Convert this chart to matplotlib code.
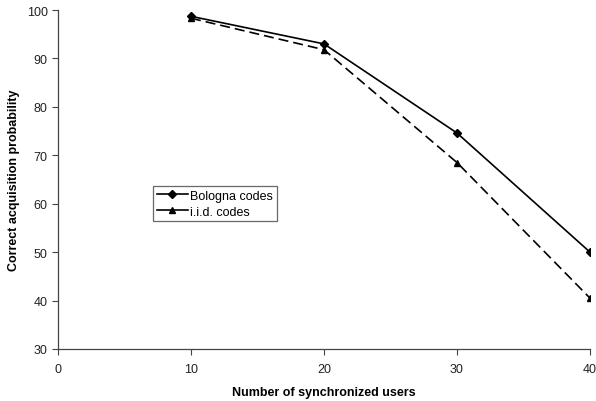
import matplotlib.pyplot as plt

plt.rcParams['font.family'] = ['Liberation Sans', 'DejaVu Sans']

users = [10, 20, 30, 40]
bologna = [98.7, 93.0, 74.6, 50.0]
iid = [98.3, 91.8, 68.5, 40.5]

fig = plt.figure(figsize=(5.96, 4.02), dpi=100)
ax = fig.add_axes([58 / 596, 1 - 350 / 402, 532 / 596, 339 / 402])

ax.plot(users, bologna, 'k-', marker='D', markersize=4, linewidth=1.2, label='Bologna codes')
ax.plot(users, iid, 'k--', marker='^', markersize=5, linewidth=1.2, dashes=(6, 3), label='i.i.d. codes')

ax.set_xlim(0, 40)
ax.set_ylim(30, 100)
ax.set_xticks([0, 10, 20, 30, 40])
ax.set_yticks(range(30, 101, 10))
ax.tick_params(labelsize=9, length=4, width=0.8, color='#444444', labelcolor='#222222')
ax.tick_params(axis='x', pad=6)
for s in ['top', 'right']:
    ax.spines[s].set_visible(False)
for s in ['left', 'bottom']:
    ax.spines[s].set_color('#444444')
    ax.spines[s].set_linewidth(0.9)

ax.set_xlabel('Number of synchronized users', fontsize=9, fontweight='bold', labelpad=8)
ax.set_ylabel('Correct acquisition probability', fontsize=9, fontweight='bold', labelpad=5)

leg = ax.legend(loc='upper left', bbox_to_anchor=(95 / 532, 1 - 176 / 339), fontsize=9,
                frameon=True, fancybox=False, handlelength=2.5, handletextpad=0.2,
                borderpad=0.3, labelspacing=0.3, borderaxespad=0)
leg.get_frame().set_edgecolor('#444444')
leg.get_frame().set_linewidth(0.9)
# the dashed handle looks solid in the original legend
for ln in leg.get_lines():
    ln.set_linestyle('-')

fig.savefig('out.png', dpi=100)
